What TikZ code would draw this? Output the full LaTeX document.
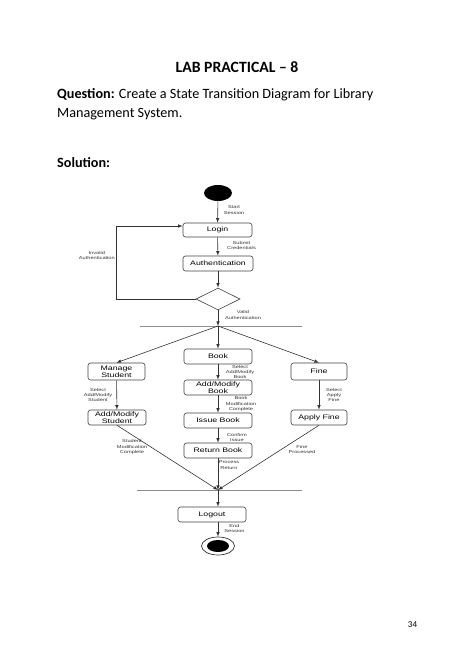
\documentclass[tikz,border=0pt]{standalone}
\usepackage{fontspec}
\setmainfont{Carlito}
\newfontfamily\diafont[FakeStretch=1.35]{Liberation Sans}
\usetikzlibrary{shapes.geometric}

\begin{document}
\begin{tikzpicture}[x=1pt,y=-1pt,>=latex,
    state/.style={draw=black!75,rounded corners=2.5pt,line width=.6pt,
                  minimum width=68pt,minimum height=15pt,inner sep=1pt,
                  align=center,font=\diafont\fontsize{6.5}{7}\selectfont},
    lbl/.style={align=center,inner sep=0pt,text=black!80,font=\diafont\fontsize{4.2}{5.2}\selectfont},
    flow/.style={->,draw=black!80,line width=.6pt},
    bar/.style={draw=black!45,line width=.7pt}]
    \useasboundingbox (0,0) rectangle (474,669);
    % \draw [help lines,step=50] (0,0) grid (474,669);
    \node [anchor=base,font=\fontsize{15.7}{19}\selectfont\bfseries] (title) at (237,73) {LAB PRACTICAL -- 8};
    \node [anchor=base west,inner sep=0pt,font=\fontsize{14.2}{18}\selectfont] (question) at (57,99)
          {\textbf{Question:} Create a State Transition Diagram for Library};
    \node [anchor=base west,inner sep=0pt,font=\fontsize{14.2}{18}\selectfont] (question2) at (57,117)
          {Management System.};
    \node [anchor=base west,inner sep=0pt,font=\fontsize{14.2}{18}\selectfont\bfseries] (solution) at (57,167) {Solution:};
    \node [font=\fontsize{9}{10}\selectfont] (pageno) at (412.5,625) {34};

    % states
    \node [ellipse,fill=black,minimum width=28pt,minimum height=16pt,inner sep=0pt] (start) at (218,193) {};
    \node [state,minimum width=69pt,minimum height=14pt] (login) at (217.5,230) {Login};
    \node [state,minimum width=70pt] (auth) at (218,263.5) {Authentication};
    \node [diamond,draw=black!75,line width=.6pt,minimum width=44pt,minimum height=22pt,inner sep=0pt] (check) at (218,299) {};
    \coordinate (fork) at (218,326);
    \coordinate (forkL) at (140,326);
    \coordinate (forkR) at (302,326);
    \node [state,minimum width=57pt,minimum height=17pt] (manage) at (116.5,371.5) {Manage\\Student};
    \node [state] (book) at (218,356.5) {Book};
    \node [state,minimum width=56pt,minimum height=17pt] (fine) at (319,371.5) {Fine};
    \node [state,minimum width=58pt] (addstu) at (117,417.5) {Add/Modify\\Student};
    \node [state] (addbook) at (218,387.5) {Add/Modify\\Book};
    \node [state] (issue) at (218,420.5) {Issue Book};
    \node [state] (return) at (218,450.5) {Return Book};
    \node [state,minimum width=56pt] (applyfine) at (319,417.5) {Apply Fine};
    \coordinate (join) at (218,490);
    \coordinate (joinL) at (137,490);
    \coordinate (joinR) at (302,490);
    \node [state] (logout) at (212,514.5) {Logout};
    \node [ellipse,draw=black!80,line width=.7pt,minimum width=33pt,minimum height=18pt,inner sep=0pt] (end) at (218,546) {};
    \node [ellipse,fill=black,minimum width=22pt,minimum height=12pt,inner sep=0pt] (endin) at (end) {};

    % transitions
    \draw [bar] (forkL) -- (forkR);
    \draw [bar] (joinL) -- (joinR);
    \draw [flow] (start) -- (login);
    \draw [flow] (login) -- (auth);
    \draw [flow] (auth) -- (check);
    \draw [flow] (check.west) -- ++(-79,0) |- ([yshift=4pt]login.west);
    \draw [flow] (check) -- (fork);
    \draw [flow] (fork) -- (manage.north);
    \draw [flow] (fork) -- (book);
    \draw [flow] (fork) -- (fine.north);
    \draw [flow] (manage) -- (addstu);
    \draw [flow] (book) -- (addbook);
    \draw [flow] (addbook) -- (issue);
    \draw [flow] (issue) -- (return);
    \draw [flow] (fine) -- (applyfine);
    \draw [flow] (addstu.south) -- (join);
    \draw [flow] (return) -- (join);
    \draw [flow] (applyfine.south) -- (join);
    \draw [flow] (join) -- (join |- logout.north);
    \draw [flow] (end |- logout.south) -- (end);

    % transition labels
    \node [lbl] (startlbl) at (234,210) {Start\\Session};
    \node [lbl] (sublbl) at (241.5,245.5) {Submit\\Credentials};
    \node [lbl,anchor=east] (invlbl) at (115,255.5) {Invalid\\Authentication};
    \node [lbl] (validlbl) at (243,315) {Valid\\Authentication};
    \node [lbl] (selstulbl) at (98,395) {Select\\Add/Modify\\Student};
    \node [lbl] (selbooklbl) at (240,372) {Select\\Add/Modify\\Book};
    \node [lbl] (bmodlbl) at (241,404) {Book\\Modification\\Complete};
    \node [lbl] (conflbl) at (237,437.5) {Confirm\\Issue};
    \node [lbl] (proclbl) at (229,465) {Process\\Return};
    \node [lbl] (finelbl) at (334,395) {Select\\Apply\\Fine};
    \node [lbl] (stumodlbl) at (132,447) {Student\\Modification\\Complete};
    \node [lbl] (fineproclbl) at (302,449.5) {Fine\\Processed};
    \node [lbl] (endlbl) at (234.5,528.5) {End\\Session};
\end{tikzpicture}
\end{document}
